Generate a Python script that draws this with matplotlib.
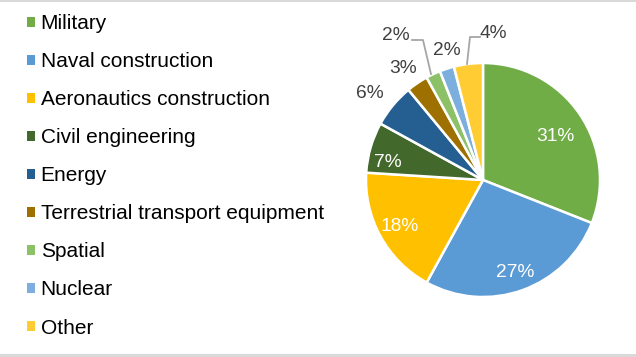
import numpy as np
import matplotlib
matplotlib.use("Agg")
import matplotlib.pyplot as plt
from matplotlib.patches import Patch, Rectangle

plt.rcParams['font.family'] = ['Liberation Sans', 'DejaVu Sans']

# data
sectors = ['Military', 'Naval construction', 'Aeronautics construction', 'Civil engineering',
           'Energy', 'Terrestrial transport equipment', 'Spatial', 'Nuclear', 'Other']
shares = [31, 27, 18, 7, 6, 3, 2, 2, 4]
colors = ['#70AD47', '#5B9BD5', '#FFC000', '#43682B', '#255E91',
          '#9E7000', '#8CC168', '#7CAFDD', '#FFCD33']

W, H = 636, 357
fig = plt.figure(figsize=(W / 100, H / 100), dpi=100)

# pie centre / radius in pixels, axes spanning the whole figure so 1 unit = radius
cx, cy, R = 483, 180, 117
ax = fig.add_axes([0, 0, 1, 1])
ax.axis('off')

wedges, _ = ax.pie(shares, colors=colors, startangle=90, counterclock=False,
                   wedgeprops=dict(edgecolor='white', linewidth=1.8))
ax.set_aspect('auto')
ax.set_xlim(-cx / R, (W - cx) / R)
ax.set_ylim(-(H - cy) / R, cy / R)

# label placement: (radius, angle shift in degrees) per wedge
label_pos = [(0.725, -3), (0.84, -0.5), (0.815, 0.7), (0.83, 6), (1.215, 2.3),
             (1.174, 1.2), (1.447, 5.9), (1.153, -2.5), (1.259, -11.1)]
inside = [True, True, True, True, False, False, False, False, False]

for w, val, (r, da), ins in zip(wedges, shares, label_pos, inside):
    mid = np.deg2rad((w.theta1 + w.theta2) / 2 + da)
    x, y = r * np.cos(mid), r * np.sin(mid)
    ax.text(x, y, f'{val}%', ha='center', va='center', fontsize=13.8,
            color='white' if ins else '#404040')

# leader lines for Spatial and Other
def px(xp, yp):
    return (xp - cx) / R, (cy - yp) / R

for pts in ([(412, 40), (423, 40), (431, 74)], [(480, 37), (470, 37), (467, 64)]):
    xs, ys = zip(*[px(*p) for p in pts])
    ax.plot(xs, ys, color='#A6A6A6', lw=1.3)

handles = [Patch(facecolor=c, edgecolor='none') for c in colors]
fig.legend(handles, sectors, loc='upper left', bbox_to_anchor=(27 / W, 1 - 14 / H),
           frameon=False, fontsize=15, handlelength=0.36, handleheight=0.36,
           handletextpad=0.3, labelspacing=0.915, borderpad=0, borderaxespad=0)

# light grey frame bits at top and bottom
fig.add_artist(Rectangle((0, 1 - 2 / H), 1, 2 / H, transform=fig.transFigure,
                         color='#D9D9D9', lw=0))
fig.add_artist(Rectangle((0, 0), 1, 3 / H, transform=fig.transFigure,
                         color='#D9D9D9', lw=0))

fig.savefig('out.png', dpi=100)
